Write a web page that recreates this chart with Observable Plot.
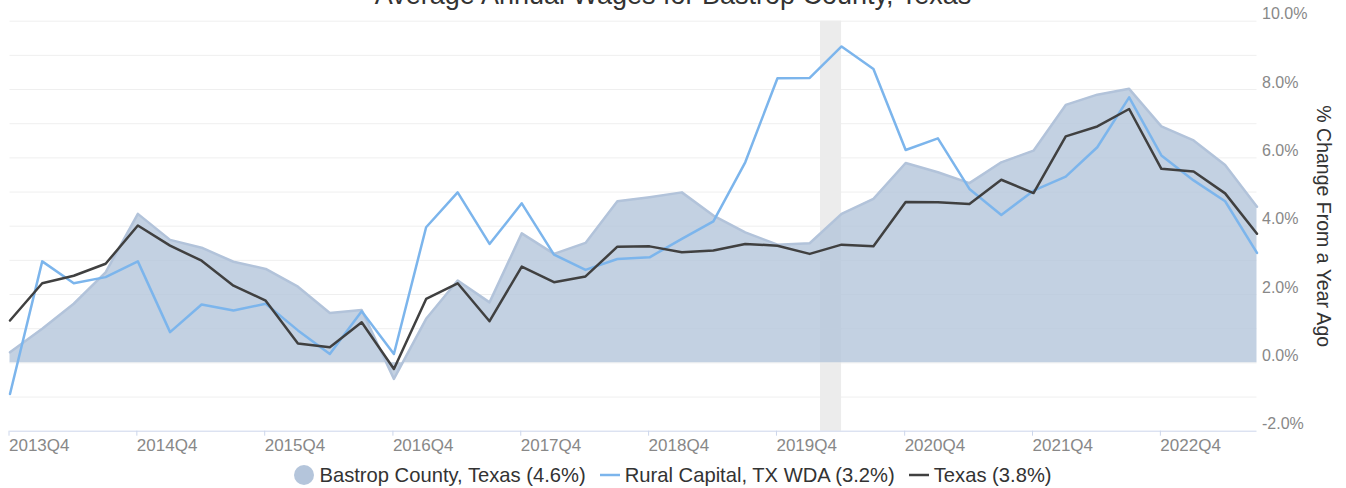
<!DOCTYPE html>
<html>
<head>
<meta charset="utf-8">
<script src="https://cdn.jsdelivr.net/npm/d3@7"></script>
<script src="https://cdn.jsdelivr.net/npm/@observablehq/plot@0.6"></script>
<style>
  html, body { margin: 0; padding: 0; background: #fff; }
  #wrap { position: relative; width: 1346px; height: 488px; overflow: hidden; font-family: "Liberation Sans", Arial, sans-serif; }
  #title { position: absolute; left: 0; width: 1346px; top: -18px; text-align: center; font-size: 27px; line-height: 27px; color: #333; white-space: nowrap; }
  #chart { position: absolute; left: 0; top: 0; }
  #legend { position: absolute; left: 0; width: 1346px; top: 464.5px; display: flex; justify-content: center; align-items: center; font-size: 20.2px; line-height: 20px; color: #333; white-space: nowrap; }
  .item { display: flex; align-items: center; margin: 0 7px; }
  .item svg { margin-right: 5px; }
</style>
</head>
<body>
<div id="wrap">
  <div id="chart"></div>
  <div id="title"></div>
  <div id="legend"></div>
</div>
<script>
// ---- data ----
const titleText = "Average Annual Wages for Bastrop County, Texas";
const yAxisTitle = "% Change From a Year Ago";

const quarters = [
  "2013Q4","2014Q1","2014Q2","2014Q3","2014Q4","2015Q1","2015Q2","2015Q3",
  "2015Q4","2016Q1","2016Q2","2016Q3","2016Q4","2017Q1","2017Q2","2017Q3",
  "2017Q4","2018Q1","2018Q2","2018Q3","2018Q4","2019Q1","2019Q2","2019Q3",
  "2019Q4","2020Q1","2020Q2","2020Q3","2020Q4","2021Q1","2021Q2","2021Q3",
  "2021Q4","2022Q1","2022Q2","2022Q3","2022Q4","2023Q1","2023Q2","2023Q3"
];

const seriesNames = ["Bastrop County, Texas (4.6%)", "Rural Capital, TX WDA (3.2%)", "Texas (3.8%)"];

const bastrop = [0.31, 1.00, 1.73, 2.65, 4.36, 3.60, 3.37, 2.96, 2.75, 2.23,
                 1.46, 1.55, -0.47, 1.29, 2.41, 1.77, 3.79, 3.19, 3.51, 4.73,
                 4.85, 4.99, 4.31, 3.82, 3.46, 3.50, 4.36, 4.80, 5.85, 5.58,
                 5.26, 5.87, 6.21, 7.55, 7.85, 8.02, 6.92, 6.51, 5.79, 4.57];

const rural = [-0.91, 2.97, 2.33, 2.51, 2.97, 0.90, 1.71, 1.53, 1.73, 0.95,
               0.26, 1.51, 0.26, 3.97, 4.99, 3.48, 4.67, 3.17, 2.72, 3.04,
               3.09, 3.63, 4.14, 5.87, 8.33, 8.34, 9.26, 8.60, 6.23, 6.57,
               5.09, 4.33, 5.04, 5.45, 6.31, 7.77, 6.07, 5.34, 4.73, 3.22];

const texas = [1.24, 2.33, 2.55, 2.90, 4.02, 3.43, 2.99, 2.26, 1.82, 0.57,
               0.46, 1.19, -0.18, 1.87, 2.33, 1.22, 2.82, 2.36, 2.53, 3.40,
               3.41, 3.24, 3.29, 3.48, 3.43, 3.19, 3.46, 3.41, 4.71, 4.70,
               4.65, 5.36, 4.97, 6.63, 6.92, 7.43, 5.68, 5.60, 4.96, 3.78];

const xTickLabels = ["2013Q4","2014Q4","2015Q4","2016Q4","2017Q4","2018Q4","2019Q4","2020Q4","2021Q4","2022Q4"];
const yTickValues = [-2, 0, 2, 4, 6, 8, 10];
const yGridValues = [-1, 0, 1, 2, 3, 4, 5, 6, 7, 8, 9, 10];
const recessionStart = ["2020-02-01"];
const recessionEnd = ["2020-04-01"];

// ---- build ----
const parseQ = q => new Date(Date.UTC(+q.slice(0, 4), (+q.slice(5) - 1) * 3, 1));
const data = quarters.map((q, i) => ({date: parseQ(q), bastrop: bastrop[i], rural: rural[i], texas: texas[i]}));
const xTicks = xTickLabels.map(parseQ);
const labelOf = new Map(xTickLabels.map(q => [+parseQ(q), q]));
const recessions = recessionStart.map((s, i) => ({start: new Date(s + "T00:00Z"), end: new Date(recessionEnd[i] + "T00:00Z")}));

const colors = {bastropFill: "#b4c5db", bastropLine: "#b2c3da", rural: "#7cb5ec", texas: "#404040"};

const chart = Plot.plot({
  width: 1346,
  height: 455,
  marginLeft: 9.5,
  marginRight: 89.5,
  marginTop: 20.7,
  marginBottom: 24.3,
  style: {fontFamily: "'Liberation Sans', Arial, sans-serif", background: "transparent", overflow: "visible"},
  x: {type: "utc", domain: [data[0].date, data[data.length - 1].date]},
  y: {domain: [-2, 10]},
  marks: [
    Plot.ruleY(yGridValues, {stroke: "#efefef", strokeWidth: 1}),
    Plot.rect(recessions, {x1: "start", x2: "end", fill: "#ececec"}),
    Plot.areaY(data, {x: "date", y: "bastrop", fill: colors.bastropFill, fillOpacity: 0.8}),
    Plot.lineY(data, {x: "date", y: "bastrop", stroke: colors.bastropLine, strokeWidth: 2.5}),
    Plot.lineY(data, {x: "date", y: "rural", stroke: colors.rural, strokeWidth: 2.5}),
    Plot.lineY(data, {x: "date", y: "texas", stroke: colors.texas, strokeWidth: 2.5}),
    Plot.ruleY([-2], {stroke: "#ccd6eb", strokeWidth: 1}),
    Plot.axisX(xTicks, {tickSize: 5, stroke: "#ccd6eb", fill: "#888", fontSize: 17, textAnchor: "start", dx: -1, tickPadding: 3, tickFormat: d => labelOf.get(+d), label: null}),
    Plot.axisY(yTickValues, {anchor: "right", tickSize: 0, tickPadding: 5, dy: -7, fill: "#888", fontSize: 16, tickFormat: d => d.toFixed(1) + "%", label: null}),
    Plot.text([yAxisTitle], {frameAnchor: "right", dx: 66.5, rotate: 90, textAnchor: "middle", lineAnchor: "middle", fontSize: 19.5, fill: "#333", text: d => d})
  ]
});
document.getElementById("chart").appendChild(chart);
document.getElementById("title").textContent = titleText;

// legend
const legend = document.getElementById("legend");
const markers = [
  `<svg width="20" height="20"><circle cx="10" cy="10" r="10" fill="${colors.bastropFill}"/></svg>`,
  `<svg width="20" height="20"><line x1="0" x2="20" y1="10" y2="10" stroke="${colors.rural}" stroke-width="2.5"/></svg>`,
  `<svg width="20" height="20"><line x1="0" x2="20" y1="10" y2="10" stroke="${colors.texas}" stroke-width="2.5"/></svg>`
];
seriesNames.forEach((name, i) => {
  const el = document.createElement("div");
  el.className = "item";
  el.innerHTML = markers[i] + `<span>${name}</span>`;
  legend.appendChild(el);
});
</script>
</body>
</html>
